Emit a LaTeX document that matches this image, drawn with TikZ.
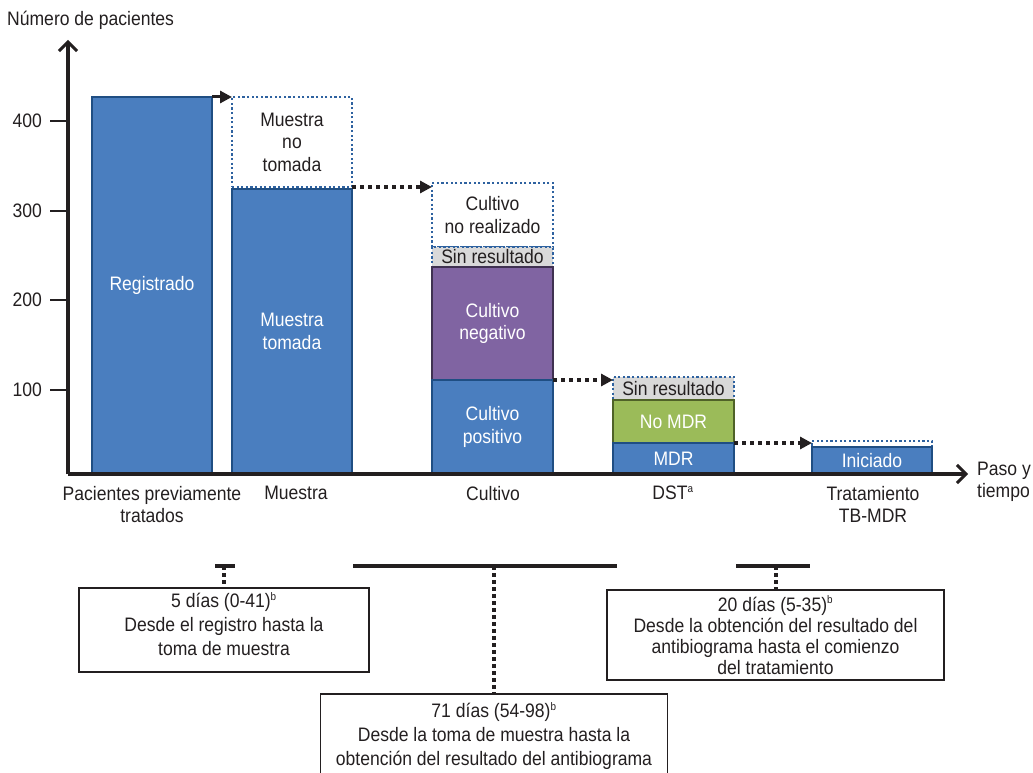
\documentclass[tikz,border=0pt]{standalone}
\usepackage{fontspec}
\setmainfont{Liberation Sans}[FakeStretch=0.9]
\usetikzlibrary{arrows.meta}
\definecolor{barblue}{HTML}{4A7EBF}
\definecolor{bluedark}{HTML}{1F4E83}
\definecolor{dotblue}{HTML}{2E62A0}
\definecolor{purp}{HTML}{8064A2}
\definecolor{purpdark}{HTML}{3F3151}
\definecolor{grn}{HTML}{9BBB59}
\definecolor{grndark}{HTML}{4F6228}
\definecolor{lgray}{HTML}{D9D9D9}
\definecolor{txt}{HTML}{231F20}
\newcommand{\supr}[1]{\textsuperscript{\fontsize{11}{11}\selectfont #1}}
\tikzset{
  barbase/.style={anchor=north west, inner sep=0pt, outer sep=0pt, align=center, line width=2pt},
  bluebar/.style={barbase, fill=barblue, draw=bluedark, text=white},
  purpbar/.style={barbase, fill=purp, draw=purpdark, text=white},
  grnbar/.style={barbase, fill=grn, draw=grndark, text=white},
  dotbox/.style={barbase, draw=dotblue, line width=2.2pt, dash pattern=on 2.2pt off 2.4pt, text=txt},
  graybox/.style={dotbox, fill=lgray},
  dotarr/.style={line width=3.5pt, dash pattern=on 4pt off 4pt, -{Triangle[length=12pt,width=12pt]}, txt},
  solarr/.style={line width=3pt, -{Triangle[length=12pt,width=12pt]}, txt},
  axisline/.style={line width=3.5pt, txt, -{Straight Barb[length=9pt,width=18pt,line width=3pt]}},
  tick/.style={line width=2pt, txt},
  spanbar/.style={line width=4pt, txt},
  vdots/.style={line width=3.5pt, dash pattern=on 4pt off 3pt, txt},
  infobox/.style={draw=txt, line width=1.6pt, inner sep=0pt, outer sep=0pt, text=txt, align=center},
  lab/.style={text=txt, align=center, inner sep=0pt}
}
\begin{document}
\begin{tikzpicture}[x=1pt,y=-1pt,font=\fontsize{19.5}{22.5}\selectfont]
\useasboundingbox (0,0) rectangle (1033,773);
% axes
\coordinate (o) at (68,474);
\coordinate (ytop) at (68,40);
\coordinate (xend) at (968,474);
% bars
\node[bluebar, minimum width=120pt, minimum height=377pt] (reg) at (92,97) {Registrado};
\node[dotbox, minimum width=120pt, minimum height=90pt] (nt) at (232,97) {Muestra\\no\\tomada};
\node[bluebar, minimum width=120pt, minimum height=285pt] (mt) at (232,189) {Muestra\\tomada};
\node[dotbox, minimum width=121pt, minimum height=64pt] (cnr) at (432,183) {Cultivo\\no realizado};
\node[graybox, minimum width=121pt, minimum height=20pt] (csr) at (432,247) {Sin resultado};
\node[purpbar, minimum width=121pt, minimum height=113pt] (cneg) at (432,267) {Cultivo\\negativo};
\node[bluebar, minimum width=121pt, minimum height=94pt] (cpos) at (432,380) {Cultivo\\positivo};
\node[graybox, minimum width=121pt, minimum height=23pt] (dsr) at (613,377) {Sin resultado};
\node[grnbar, minimum width=121pt, minimum height=43pt] (nomdr) at (613,400) {No MDR};
\node[bluebar, minimum width=121pt, minimum height=31pt] (mdr) at (613,443) {MDR};
\node[dotbox, minimum width=120pt, minimum height=6pt] (tdot) at (812,441) {};
\node[bluebar, minimum width=120pt, minimum height=27pt] (ini) at (812,447) {Iniciado};
\draw[axisline] (o) -- (ytop);
\draw[axisline] (o) -- (xend);
% ticks
\foreach \v/\yy in {400/121,300/211,200/300,100/390}{
  \draw[tick] (50,\yy) -- (68,\yy);
  \node[lab, anchor=east] (t\v) at (42,\yy) {\v};
}
\node[lab, anchor=west] (ylab) at (7,20) {Número de pacientes};
% arrows between steps
\coordinate (ma) at ([yshift=2pt]mt.north east);
\draw[solarr] (reg.north east) -- (nt.north west);
\draw[dotarr] (ma) -- (cnr.west |- ma);
\draw[dotarr] (cneg.south east) -- (dsr.west |- cneg.south east);
\draw[dotarr] (nomdr.south east) -- (tdot.west |- nomdr.south east);
% category labels
\node[lab, anchor=north] (l1) at (152,486) {Pacientes previamente\\tratados};
\node[lab, anchor=north] (l2) at (296,486) {Muestra};
\node[lab, anchor=north] (l3) at (493,486) {Cultivo};
\node[lab, anchor=north] (l4) at (673,486) {DST\supr{a}};
\node[lab, anchor=north] (l5) at (873,486) {Tratamiento\\TB-MDR};
\node[lab, anchor=west, align=left] (l6) at (977,482) {Paso y\\tiempo};
% bottom spans
\coordinate (s1a) at (215,566); \coordinate (s1b) at (235,566); \coordinate (s1c) at (224,566);
\coordinate (s2a) at (353,566); \coordinate (s2b) at (617,566); \coordinate (s2c) at (494,566);
\coordinate (s3a) at (736,566); \coordinate (s3b) at (810,566); \coordinate (s3c) at (776,566);
\draw[spanbar] (s1a) -- (s1b);
\draw[spanbar] (s2a) -- (s2b);
\draw[spanbar] (s3a) -- (s3b);
\node[infobox, minimum width=290pt, minimum height=84pt, anchor=north] (b1) at (224,588) {};
\node[lab, anchor=north, font=\fontsize{19.5}{24}\selectfont] (b1t) at ([yshift=-4pt]b1.north) {5 días (0-41)\supr{b}\\Desde el registro hasta la\\toma de muestra};
\node[infobox, minimum width=347pt, minimum height=100pt, anchor=north] (b2) at (494,694) {};
\node[lab, anchor=north, font=\fontsize{19.5}{24}\selectfont] (b2t) at ([yshift=-8pt]b2.north) {71 días (54-98)\supr{b}\\Desde la toma de muestra hasta la\\obtención del resultado del antibiograma};
\node[infobox, minimum width=337pt, minimum height=90pt, font=\fontsize{19.5}{21}\selectfont] (b3) at (775.5,635) {20 días (5-35)\supr{b}\\Desde la obtención del resultado del\\antibiograma hasta el comienzo\\del tratamiento};
\draw[vdots] (s1c) -- (b1.north -| s1c);
\draw[vdots] (s2c) -- (b2.north -| s2c);
\draw[vdots] (s3c) -- (b3.north -| s3c);
\end{tikzpicture}
\end{document}
